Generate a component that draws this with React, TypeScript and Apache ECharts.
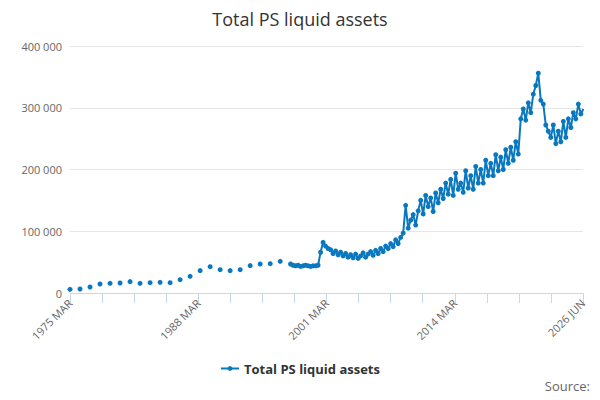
import React, { useEffect, useRef } from 'react';
import * as echarts from 'echarts';

// Annual observations (March), thousands
const annualYears = [1975, 1976, 1977, 1978, 1979, 1980, 1981, 1982, 1983, 1984, 1985, 1986, 1987, 1988, 1989, 1990, 1991, 1992, 1993, 1994, 1995, 1996];
const annualValues = [5.9, 6.5, 9.7, 14.6, 15.7, 16.2, 18.4, 15.7, 16.7, 17.3, 16.7, 21.6, 27, 36.2, 42.6, 37.8, 36.2, 37.8, 44.3, 47, 47.5, 51.3];

// Quarterly observations from 1997, thousands
const qStartYear = 1997;
const quarterlyValues = [
  47, 45, 44, 45,
  43, 44, 45, 44,
  43, 44, 44, 45,
  66, 82, 76, 72,
  70, 64, 68, 62,
  66, 60, 64, 58,
  62, 57, 63, 56,
  60, 65, 58, 63,
  67, 61, 69, 64,
  72, 67, 76, 72,
  80, 75, 86, 80,
  90, 97, 142, 105,
  118, 127, 110, 133,
  150, 128, 158, 140,
  154, 132, 162, 146,
  168, 153, 178, 160,
  184, 158, 194, 168,
  178, 163, 198, 170,
  190, 168, 205, 178,
  200, 178, 215, 190,
  210, 190, 224, 198,
  220, 200, 232, 210,
  236, 215, 245, 225,
  282, 298, 280, 308,
  292, 322, 336, 356,
  312, 306, 272, 262,
  252, 272, 242, 262,
  245, 278, 252, 282,
  268, 292, 282, 306,
  290, 298,
];

const tickLabels = ['1975 MAR', '1988 MAR', '2001 MAR', '2014 MAR', '2026 JUN'];
const xMin = 1975 + 2 / 12;
const xMax = 2026 + 5 / 12;
const xInterval = (xMax - xMin) / 16;

const App: React.FC = () => {
  const ref = useRef<HTMLDivElement>(null);

  useEffect(() => {
    if (!ref.current) return;
    document.body.style.margin = '0';
    const chart = echarts.init(ref.current, undefined, { renderer: 'svg' });

    // annual points are shown as unconnected dots: break the line between them
    const data: [number, number | string][] = [];
    annualYears.forEach((y, i) => {
      data.push([y + 2 / 12, annualValues[i] * 1000]);
      data.push([y + 0.5, '-']);
    });
    quarterlyValues.forEach((v, i) => data.push([qStartYear + 0.2 + i * 0.25, v * 1000]));

    chart.setOption({
      animation: false,
      title: {
        text: 'Total PS liquid assets',
        left: 'center',
        top: 5,
        textStyle: { fontSize: 18, fontWeight: 'normal', color: '#333', fontFamily: 'Open Sans' },
      },
      grid: { left: 70, right: 17, top: 46, bottom: 107 },
      xAxis: {
        type: 'value',
        min: xMin,
        max: xMax,
        interval: xInterval,
        axisLine: { lineStyle: { color: '#ccd6eb' } },
        axisTick: { lineStyle: { color: '#ccd6eb' }, length: 10 },
        splitLine: { show: false },
        axisLabel: {
          rotate: 45,
          color: '#666',
          fontSize: 11,
          fontFamily: 'Open Sans',
          formatter: (v: number) => {
            const k = Math.round((v - xMin) / xInterval);
            return k % 4 === 0 ? tickLabels[k / 4] ?? '' : '';
          },
        },
      },
      yAxis: {
        type: 'value',
        min: 0,
        max: 400000,
        interval: 100000,
        axisLine: { show: false },
        axisTick: { show: false },
        axisLabel: {
          color: '#666',
          fontSize: 11,
          fontFamily: 'Open Sans',
          formatter: (v: number) => String(v).replace(/\B(?=(\d{3})+(?!\d))/g, ' '),
        },
        splitLine: { lineStyle: { color: '#e6e6e6' } },
      },
      legend: {
        bottom: 20,
        left: 'center',
        itemWidth: 18,
        itemHeight: 6,
        textStyle: { fontSize: 13, fontWeight: 'bold', color: '#333', fontFamily: 'Open Sans' },
      },
      graphic: [
        {
          type: 'text',
          right: 10,
          bottom: 8,
          style: { text: 'Source:', fill: '#666', fontSize: 13, fontFamily: 'Open Sans' },
        },
      ],
      series: [
        {
          name: 'Total PS liquid assets',
          type: 'line',
          data,
          color: '#0a78bf',
          symbol: 'circle',
          symbolSize: 5,
          showSymbol: true,
          lineStyle: { width: 2 },
          connectNulls: false,
        },
      ],
    });

    return () => chart.dispose();
  }, []);

  return <div ref={ref} style={{ width: 600, height: 400 }} />;
};

export default App;
